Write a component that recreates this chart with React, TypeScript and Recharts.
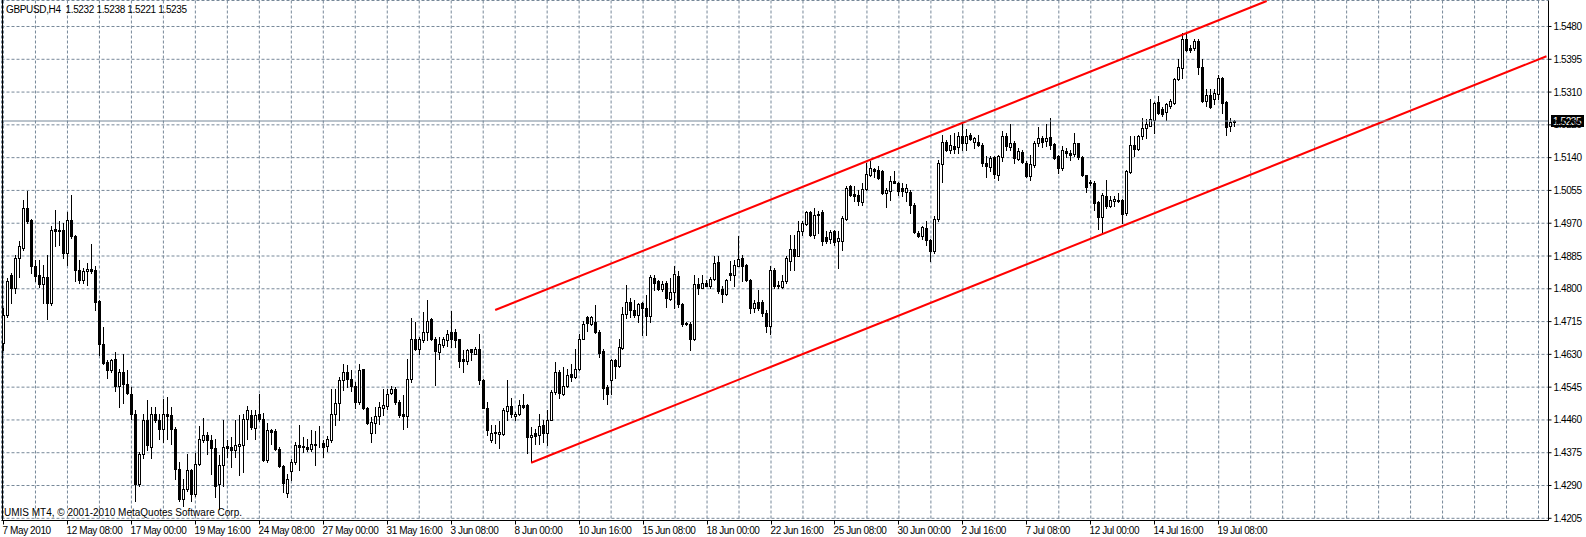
import React from 'react';
import { ComposedChart, Bar, XAxis, YAxis, CartesianGrid, ReferenceLine } from 'recharts';

const SYMBOL = 'GBPUSD,H4';
const COPYRIGHT = 'UMIS MT4, \u00a9 2001-2010 MetaQuotes Software Corp.';

// H4 bars, oldest first
const OPEN = [
  1.4659, 1.4732, 1.4836, 1.4801, 1.4879, 1.4907, 1.5009, 1.4979, 1.4859, 1.4836,
  1.4812, 1.4830, 1.4762, 1.4956, 1.4953, 1.4953, 1.4894, 1.4979, 1.4936, 1.4849,
  1.4823, 1.4846, 1.4852, 1.4849, 1.4769, 1.4656, 1.4611, 1.4589, 1.4618, 1.4548,
  1.4583, 1.4554, 1.4527, 1.4475, 1.4293, 1.4371, 1.4461, 1.4390, 1.4475, 1.4461,
  1.4437, 1.4476, 1.4472, 1.4437, 1.4333, 1.4256, 1.4282, 1.4329, 1.4267, 1.4345,
  1.4409, 1.4422, 1.4409, 1.4387, 1.4293, 1.4342, 1.4392, 1.4390, 1.4383, 1.4393,
  1.4394, 1.4463, 1.4474, 1.4440, 1.4476, 1.4462, 1.4357, 1.4433, 1.4431, 1.4385,
  1.4340, 1.4270, 1.4327, 1.4351, 1.4396, 1.4393, 1.4391, 1.4385, 1.4398, 1.4397,
  1.4400, 1.4393, 1.4407, 1.4476, 1.4505, 1.4563, 1.4583, 1.4566, 1.4548, 1.4507,
  1.4591, 1.4490, 1.4427, 1.4453, 1.4470, 1.4492, 1.4496, 1.4531, 1.4541, 1.4507,
  1.4476, 1.4470, 1.4566, 1.4670, 1.4645, 1.4667, 1.4687, 1.4722, 1.4670, 1.4637,
  1.4654, 1.4667, 1.4687, 1.4689, 1.4669, 1.4617, 1.4613, 1.4643, 1.4632, 1.4645,
  1.4563, 1.4491, 1.4407, 1.4429, 1.4423, 1.4423, 1.4483, 1.4496, 1.4470, 1.4475,
  1.4500, 1.4498, 1.4416, 1.4425, 1.4420, 1.4448, 1.4427, 1.4461, 1.4533, 1.4583,
  1.4528, 1.4548, 1.4578, 1.4572, 1.4592, 1.4671, 1.4726, 1.4710, 1.4715, 1.4689,
  1.4639, 1.4546, 1.4563, 1.4615, 1.4600, 1.4647, 1.4734, 1.4767, 1.4745, 1.4732,
  1.4762, 1.4749, 1.4730, 1.4827, 1.4819, 1.4799, 1.4814, 1.4773, 1.4791, 1.4834,
  1.4760, 1.4712, 1.4709, 1.4670, 1.4813, 1.4803, 1.4814, 1.4806, 1.4825, 1.4869,
  1.4799, 1.4787, 1.4840, 1.4836, 1.4860, 1.4879, 1.4862, 1.4823, 1.4751, 1.4767,
  1.4765, 1.4738, 1.4704, 1.4849, 1.4810, 1.4804, 1.4819, 1.4873, 1.4904, 1.4885,
  1.4949, 1.4968, 1.4998, 1.4940, 1.4995, 1.4998, 1.4934, 1.4929, 1.4949, 1.4925,
  1.4925, 1.4982, 1.5066, 1.5046, 1.5044, 1.5025, 1.5060, 1.5096, 1.5111, 1.5109,
  1.5105, 1.5048, 1.5054, 1.5080, 1.5074, 1.5061, 1.5051, 1.5050, 1.5018, 1.4944,
  1.4936, 1.4957, 1.4927, 1.4897, 1.4982, 1.5124, 1.5180, 1.5161, 1.5171, 1.5168,
  1.5197, 1.5177, 1.5200, 1.5180, 1.5181, 1.5174, 1.5126, 1.5116, 1.5142, 1.5096,
  1.5142, 1.5197, 1.5168, 1.5178, 1.5137, 1.5155, 1.5126, 1.5092, 1.5120, 1.5177,
  1.5190, 1.5183, 1.5193, 1.5176, 1.5144, 1.5114, 1.5157, 1.5152, 1.5150, 1.5177,
  1.5141, 1.5094, 1.5076, 1.5075, 1.5024, 1.4985, 1.5040, 1.5014, 1.5027, 1.5031,
  1.5029, 1.4996, 1.5103, 1.5174, 1.5163, 1.5196, 1.5216, 1.5223, 1.5237, 1.5284,
  1.5265, 1.5258, 1.5274, 1.5282, 1.5345, 1.5373, 1.5447, 1.5423, 1.5423, 1.5443,
  1.5376, 1.5287, 1.5302, 1.5291, 1.5304, 1.5347, 1.5284, 1.5222, 1.5232,
];

const HIGH = [
  1.4749, 1.4827, 1.4840, 1.4888, 1.4924, 1.5031, 1.5054, 1.4981, 1.4875, 1.4875,
  1.4862, 1.4888, 1.4962, 1.5005, 1.4976, 1.4970, 1.4999, 1.5044, 1.4940, 1.4875,
  1.4853, 1.4866, 1.4917, 1.4858, 1.4771, 1.4702, 1.4615, 1.4619, 1.4637, 1.4593,
  1.4632, 1.4589, 1.4546, 1.4485, 1.4377, 1.4476, 1.4511, 1.4494, 1.4494, 1.4476,
  1.4515, 1.4520, 1.4494, 1.4442, 1.4351, 1.4307, 1.4371, 1.4333, 1.4373, 1.4444,
  1.4466, 1.4429, 1.4420, 1.4411, 1.4368, 1.4461, 1.4407, 1.4416, 1.4459, 1.4474,
  1.4476, 1.4496, 1.4485, 1.4485, 1.4528, 1.4478, 1.4452, 1.4437, 1.4437, 1.4390,
  1.4342, 1.4321, 1.4360, 1.4403, 1.4446, 1.4416, 1.4411, 1.4433, 1.4431, 1.4444,
  1.4407, 1.4419, 1.4541, 1.4541, 1.4572, 1.4606, 1.4602, 1.4589, 1.4559, 1.4606,
  1.4593, 1.4494, 1.4468, 1.4494, 1.4507, 1.4541, 1.4541, 1.4548, 1.4546, 1.4511,
  1.4524, 1.4618, 1.4723, 1.4715, 1.4676, 1.4741, 1.4771, 1.4723, 1.4674, 1.4676,
  1.4676, 1.4693, 1.4743, 1.4697, 1.4671, 1.4641, 1.4645, 1.4645, 1.4650, 1.4683,
  1.4565, 1.4507, 1.4448, 1.4448, 1.4457, 1.4490, 1.4563, 1.4518, 1.4481, 1.4511,
  1.4528, 1.4502, 1.4442, 1.4437, 1.4475, 1.4461, 1.4487, 1.4537, 1.4609, 1.4589,
  1.4596, 1.4593, 1.4606, 1.4643, 1.4683, 1.4717, 1.4730, 1.4730, 1.4758, 1.4693,
  1.4643, 1.4550, 1.4617, 1.4618, 1.4671, 1.4754, 1.4810, 1.4775, 1.4771, 1.4764,
  1.4767, 1.4784, 1.4836, 1.4836, 1.4823, 1.4819, 1.4819, 1.4827, 1.4858, 1.4847,
  1.4762, 1.4715, 1.4715, 1.4836, 1.4827, 1.4836, 1.4823, 1.4830, 1.4884, 1.4884,
  1.4806, 1.4825, 1.4871, 1.4875, 1.4936, 1.4888, 1.4865, 1.4825, 1.4771, 1.4797,
  1.4771, 1.4745, 1.4858, 1.4853, 1.4819, 1.4836, 1.4884, 1.4940, 1.4940, 1.4975,
  1.4975, 1.5001, 1.5001, 1.5009, 1.5001, 1.5005, 1.4949, 1.4953, 1.4953, 1.4949,
  1.4989, 1.5066, 1.5070, 1.5066, 1.5057, 1.5074, 1.5126, 1.5131, 1.5113, 1.5118,
  1.5109, 1.5061, 1.5093, 1.5105, 1.5076, 1.5073, 1.5072, 1.5057, 1.5022, 1.4949,
  1.4962, 1.4976, 1.4929, 1.4989, 1.5135, 1.5200, 1.5187, 1.5200, 1.5204, 1.5206,
  1.5228, 1.5213, 1.5204, 1.5194, 1.5200, 1.5177, 1.5144, 1.5144, 1.5144, 1.5148,
  1.5209, 1.5204, 1.5228, 1.5183, 1.5165, 1.5161, 1.5131, 1.5148, 1.5183, 1.5220,
  1.5196, 1.5228, 1.5242, 1.5178, 1.5148, 1.5170, 1.5165, 1.5159, 1.5204, 1.5178,
  1.5144, 1.5096, 1.5083, 1.5079, 1.5027, 1.5049, 1.5083, 1.5040, 1.5040, 1.5049,
  1.5034, 1.5109, 1.5196, 1.5196, 1.5200, 1.5243, 1.5239, 1.5291, 1.5284, 1.5301,
  1.5272, 1.5282, 1.5291, 1.5347, 1.5397, 1.5464, 1.5466, 1.5431, 1.5447, 1.5447,
  1.5397, 1.5319, 1.5317, 1.5319, 1.5353, 1.5350, 1.5287, 1.5243, 1.5238,
];

const LOW = [
  1.4641, 1.4728, 1.4762, 1.4788, 1.4830, 1.4901, 1.4970, 1.4840, 1.4819, 1.4804,
  1.4764, 1.4721, 1.4758, 1.4910, 1.4914, 1.4879, 1.4862, 1.4931, 1.4819, 1.4816,
  1.4816, 1.4810, 1.4840, 1.4745, 1.4628, 1.4606, 1.4570, 1.4585, 1.4535, 1.4494,
  1.4505, 1.4528, 1.4463, 1.4249, 1.4290, 1.4362, 1.4381, 1.4362, 1.4455, 1.4411,
  1.4403, 1.4411, 1.4398, 1.4307, 1.4249, 1.4238, 1.4277, 1.4251, 1.4262, 1.4342,
  1.4403, 1.4371, 1.4321, 1.4260, 1.4230, 1.4290, 1.4364, 1.4338, 1.4364, 1.4316,
  1.4325, 1.4411, 1.4437, 1.4411, 1.4457, 1.4353, 1.4351, 1.4398, 1.4383, 1.4338,
  1.4273, 1.4260, 1.4305, 1.4347, 1.4329, 1.4377, 1.4379, 1.4380, 1.4342, 1.4390,
  1.4364, 1.4380, 1.4403, 1.4448, 1.4459, 1.4537, 1.4546, 1.4535, 1.4490, 1.4502,
  1.4488, 1.4449, 1.4403, 1.4426, 1.4449, 1.4472, 1.4488, 1.4528, 1.4502, 1.4468,
  1.4437, 1.4442, 1.4559, 1.4641, 1.4630, 1.4663, 1.4667, 1.4667, 1.4550, 1.4617,
  1.4648, 1.4652, 1.4648, 1.4650, 1.4596, 1.4585, 1.4605, 1.4615, 1.4631, 1.4554,
  1.4490, 1.4420, 1.4403, 1.4400, 1.4388, 1.4420, 1.4459, 1.4468, 1.4461, 1.4472,
  1.4492, 1.4373, 1.4351, 1.4398, 1.4397, 1.4403, 1.4394, 1.4459, 1.4528, 1.4518,
  1.4524, 1.4546, 1.4561, 1.4570, 1.4589, 1.4669, 1.4691, 1.4706, 1.4686, 1.4624,
  1.4513, 1.4502, 1.4528, 1.4568, 1.4596, 1.4645, 1.4723, 1.4728, 1.4728, 1.4715,
  1.4680, 1.4680, 1.4715, 1.4797, 1.4797, 1.4793, 1.4752, 1.4771, 1.4749, 1.4754,
  1.4704, 1.4706, 1.4641, 1.4667, 1.4787, 1.4801, 1.4806, 1.4801, 1.4823, 1.4790,
  1.4767, 1.4784, 1.4823, 1.4806, 1.4858, 1.4819, 1.4821, 1.4738, 1.4741, 1.4745,
  1.4730, 1.4689, 1.4684, 1.4801, 1.4801, 1.4801, 1.4814, 1.4849, 1.4849, 1.4884,
  1.4940, 1.4966, 1.4936, 1.4931, 1.4944, 1.4914, 1.4918, 1.4918, 1.4914, 1.4855,
  1.4901, 1.4979, 1.5040, 1.5027, 1.5018, 1.5016, 1.5057, 1.5092, 1.5090, 1.5085,
  1.5047, 1.5012, 1.5031, 1.5073, 1.5042, 1.5040, 1.5027, 1.4996, 1.4944, 1.4934,
  1.4929, 1.4914, 1.4872, 1.4892, 1.4975, 1.5077, 1.5157, 1.5152, 1.5152, 1.5151,
  1.5161, 1.5159, 1.5185, 1.5165, 1.5170, 1.5118, 1.5090, 1.5105, 1.5088, 1.5083,
  1.5131, 1.5161, 1.5161, 1.5126, 1.5135, 1.5125, 1.5090, 1.5083, 1.5116, 1.5171,
  1.5168, 1.5170, 1.5163, 1.5137, 1.5101, 1.5109, 1.5142, 1.5133, 1.5144, 1.5137,
  1.5092, 1.5050, 1.5070, 1.5003, 1.4955, 1.4947, 1.5009, 1.5012, 1.5014, 1.5024,
  1.4970, 1.4992, 1.5101, 1.5144, 1.5161, 1.5189, 1.5191, 1.5222, 1.5204, 1.5252,
  1.5248, 1.5237, 1.5269, 1.5278, 1.5341, 1.5347, 1.5417, 1.5414, 1.5419, 1.5356,
  1.5284, 1.5274, 1.5269, 1.5278, 1.5293, 1.5255, 1.5200, 1.5209, 1.5221,
];

const CLOSE = [
  1.4732, 1.4819, 1.4801, 1.4879, 1.4911, 1.5009, 1.4977, 1.4860, 1.4834, 1.4812,
  1.4830, 1.4764, 1.4953, 1.4949, 1.4949, 1.4894, 1.4979, 1.4936, 1.4849, 1.4823,
  1.4847, 1.4852, 1.4847, 1.4767, 1.4656, 1.4608, 1.4589, 1.4615, 1.4548, 1.4583,
  1.4554, 1.4531, 1.4475, 1.4293, 1.4371, 1.4461, 1.4394, 1.4476, 1.4459, 1.4437,
  1.4476, 1.4470, 1.4437, 1.4333, 1.4256, 1.4282, 1.4329, 1.4267, 1.4347, 1.4411,
  1.4422, 1.4409, 1.4387, 1.4290, 1.4342, 1.4390, 1.4387, 1.4383, 1.4396, 1.4398,
  1.4463, 1.4485, 1.4442, 1.4474, 1.4462, 1.4357, 1.4433, 1.4429, 1.4385, 1.4340,
  1.4297, 1.4307, 1.4351, 1.4396, 1.4390, 1.4389, 1.4385, 1.4397, 1.4394, 1.4398,
  1.4390, 1.4410, 1.4476, 1.4505, 1.4563, 1.4583, 1.4565, 1.4548, 1.4507, 1.4589,
  1.4490, 1.4453, 1.4455, 1.4470, 1.4494, 1.4498, 1.4528, 1.4541, 1.4507, 1.4472,
  1.4470, 1.4566, 1.4671, 1.4645, 1.4670, 1.4687, 1.4717, 1.4670, 1.4639, 1.4657,
  1.4670, 1.4684, 1.4670, 1.4667, 1.4613, 1.4613, 1.4641, 1.4637, 1.4645, 1.4563,
  1.4491, 1.4433, 1.4425, 1.4425, 1.4429, 1.4485, 1.4496, 1.4475, 1.4476, 1.4500,
  1.4494, 1.4416, 1.4420, 1.4419, 1.4444, 1.4426, 1.4461, 1.4533, 1.4583, 1.4531,
  1.4548, 1.4576, 1.4572, 1.4592, 1.4671, 1.4710, 1.4712, 1.4726, 1.4689, 1.4634,
  1.4544, 1.4526, 1.4615, 1.4600, 1.4648, 1.4734, 1.4767, 1.4745, 1.4732, 1.4761,
  1.4749, 1.4730, 1.4830, 1.4816, 1.4799, 1.4813, 1.4775, 1.4791, 1.4838, 1.4760,
  1.4708, 1.4709, 1.4670, 1.4813, 1.4803, 1.4814, 1.4808, 1.4826, 1.4866, 1.4795,
  1.4787, 1.4823, 1.4836, 1.4862, 1.4878, 1.4859, 1.4823, 1.4751, 1.4762, 1.4749,
  1.4736, 1.4704, 1.4849, 1.4806, 1.4806, 1.4820, 1.4879, 1.4903, 1.4884, 1.4951,
  1.4970, 1.4998, 1.4940, 1.4992, 1.4991, 1.4923, 1.4923, 1.4946, 1.4921, 1.4931,
  1.4983, 1.5061, 1.5042, 1.5041, 1.5027, 1.5060, 1.5098, 1.5113, 1.5106, 1.5087,
  1.5048, 1.5055, 1.5080, 1.5074, 1.5053, 1.5053, 1.5061, 1.5018, 1.4946, 1.4936,
  1.4959, 1.4927, 1.4898, 1.4982, 1.5126, 1.5181, 1.5161, 1.5174, 1.5163, 1.5197,
  1.5177, 1.5196, 1.5189, 1.5190, 1.5174, 1.5126, 1.5118, 1.5139, 1.5098, 1.5144,
  1.5197, 1.5170, 1.5178, 1.5139, 1.5157, 1.5129, 1.5092, 1.5124, 1.5178, 1.5190,
  1.5181, 1.5190, 1.5174, 1.5139, 1.5114, 1.5159, 1.5151, 1.5148, 1.5177, 1.5141,
  1.5094, 1.5063, 1.5073, 1.5023, 1.4985, 1.5044, 1.5014, 1.5031, 1.5034, 1.5027,
  1.4994, 1.5105, 1.5174, 1.5163, 1.5197, 1.5216, 1.5226, 1.5239, 1.5282, 1.5256,
  1.5252, 1.5278, 1.5287, 1.5345, 1.5376, 1.5447, 1.5419, 1.5419, 1.5443, 1.5376,
  1.5287, 1.5302, 1.5272, 1.5307, 1.5347, 1.5282, 1.5220, 1.5233, 1.5235,
];

// one label every 16 bars
const TIME_LABELS = [
  '7 May 2010', '12 May 08:00', '17 May 00:00', '19 May 16:00', '24 May 08:00',
  '27 May 00:00', '31 May 16:00', '3 Jun 08:00', '8 Jun 00:00', '10 Jun 16:00',
  '15 Jun 08:00', '18 Jun 00:00', '22 Jun 16:00', '25 Jun 08:00', '30 Jun 00:00',
  '2 Jul 16:00', '7 Jul 08:00', '12 Jul 00:00', '14 Jul 16:00', '19 Jul 08:00',
];

const PRICE_TICKS = [
  1.548, 1.5395, 1.531, 1.5225, 1.514, 1.5055, 1.497, 1.4885,
  1.48, 1.4715, 1.463, 1.4545, 1.446, 1.4375, 1.429, 1.4205,
];

// hand drawn channel: [bar index, price]
const UPPER_CHANNEL = [[123, 1.4745], [316, 1.5546]];
const LOWER_CHANNEL = [[132, 1.4349], [386, 1.5403]];

const SLOTS = 387; // bars plus empty space up to the price scale
const LABEL_EVERY = 16;
const GRID_EVERY = 8;
const PRICE_DOMAIN = [1.41993, 1.55474];

const W = 1586;
const H = 537;
const FONT = "'Liberation Sans', Arial, sans-serif";
const GRID_COLOR = '#778899';

const data = Array.from({ length: SLOTS }, (_, i) =>
  i < OPEN.length
    ? { i, open: OPEN[i], high: HIGH[i], low: LOW[i], close: CLOSE[i] }
    : { i }
);

const gridTicks = Array.from(
  { length: Math.floor((SLOTS - 1) / GRID_EVERY) + 1 },
  (_, k) => k * GRID_EVERY
);

const last = OPEN.length - 1;

const Candle = (props: any) => {
  const { x, y, width, height, payload } = props;
  if (!payload || payload.high == null) return <g />;
  const { open, high, low, close } = payload;
  const top = Math.min(y, y + height);
  const k = Math.abs(height) / (high - low);
  const py = (v: number) => Math.round(top + (high - v) * k);
  const cx = Math.floor(x + width / 2);
  const bTop = py(Math.max(open, close));
  const bBot = py(Math.min(open, close));
  const up = close >= open;
  return (
    <g>
      <line x1={cx + 0.5} x2={cx + 0.5} y1={py(high)} y2={py(low) + 1} stroke="#000" strokeWidth={1} />
      {up ? (
        <rect x={cx - 0.5} y={bTop + 0.5} width={2} height={Math.max(bBot - bTop, 0)} fill="#fff" stroke="#000" strokeWidth={1} />
      ) : (
        <rect x={cx - 1} y={bTop} width={3} height={Math.max(bBot - bTop + 1, 1)} fill="#000" />
      )}
    </g>
  );
};

const TimeTick = (props: any) => {
  const { x, y, payload } = props;
  const v = payload.value;
  if (v % LABEL_EVERY !== 0 || !TIME_LABELS[v / LABEL_EVERY]) return <g />;
  const px = Math.floor(x) + 0.5;
  return (
    <g>
      <line x1={px} x2={px} y1={y} y2={y + 4} stroke="#000" />
      <text x={px - 1} y={y + 13} fontSize={10} fontFamily={FONT} letterSpacing={-0.4} fill="#000">
        {TIME_LABELS[v / LABEL_EVERY]}
      </text>
    </g>
  );
};

const PriceTag = (props: any) => {
  const { viewBox, text } = props;
  if (!viewBox) return null;
  const left = viewBox.x + viewBox.width + 2.5;
  const yy = Math.round(viewBox.y);
  return (
    <g>
      <rect x={left} y={yy - 6} width={33} height={12} fill="#000" />
      <text x={left + 2} y={yy + 4} fontSize={10} fontFamily={FONT} letterSpacing={-0.4} fill="#fff">
        {text}
      </text>
    </g>
  );
};

export default function App() {
  const header = `${SYMBOL}  ${OPEN[last].toFixed(4)} ${HIGH[last].toFixed(4)} ${LOW[last].toFixed(4)} ${CLOSE[last].toFixed(4)}`;
  return (
    <div style={{ position: 'fixed', left: 0, top: 0, width: W, height: H, background: '#fff', fontFamily: FONT }}>
      <ComposedChart width={W} height={H} data={data} margin={{ top: 0.5, right: 0, bottom: 0, left: 1.5 }}>
        <CartesianGrid stroke={GRID_COLOR} strokeDasharray="3 2" />
        <XAxis
          dataKey="i"
          type="category"
          ticks={gridTicks}
          interval={0}
          height={16.5}
          tickSize={0}
          tickMargin={0}
          tickLine={false}
          axisLine={{ stroke: '#000' }}
          tick={<TimeTick />}
        />
        <YAxis
          orientation="right"
          type="number"
          width={37.5}
          domain={PRICE_DOMAIN}
          allowDataOverflow
          ticks={PRICE_TICKS}
          interval={0}
          tickSize={3}
          tickMargin={2}
          tickLine={{ stroke: '#000' }}
          axisLine={{ stroke: '#000' }}
          tickFormatter={(v: number) => v.toFixed(4)}
          tick={{ fontSize: 10, fill: '#000', fontFamily: FONT, letterSpacing: -0.4 }}
        />
        <Bar
          dataKey={(d: any) => (d.high == null ? null : [d.low, d.high])}
          shape={(p: any) => <Candle {...p} />}
          isAnimationActive={false}
        />
        <ReferenceLine
          segment={[
            { x: UPPER_CHANNEL[0][0], y: UPPER_CHANNEL[0][1] },
            { x: UPPER_CHANNEL[1][0], y: UPPER_CHANNEL[1][1] },
          ]}
          stroke="#ff0000"
          strokeWidth={2}
          ifOverflow="visible"
        />
        <ReferenceLine
          segment={[
            { x: LOWER_CHANNEL[0][0], y: LOWER_CHANNEL[0][1] },
            { x: LOWER_CHANNEL[1][0], y: LOWER_CHANNEL[1][1] },
          ]}
          stroke="#ff0000"
          strokeWidth={2}
          ifOverflow="visible"
        />
        <ReferenceLine
          y={CLOSE[last]}
          stroke={GRID_COLOR}
          strokeWidth={1}
          label={<PriceTag text={CLOSE[last].toFixed(4)} />}
        />
      </ComposedChart>
      <div style={{ position: 'absolute', left: 2, top: 0, width: 1, height: 521, background: '#000' }} />
      <div style={{ position: 'absolute', left: 6, top: 4, fontSize: 10, lineHeight: '11px', whiteSpace: 'pre', letterSpacing: -0.35, color: '#000' }}>
        {header}
      </div>
      <div style={{ position: 'absolute', left: 4, top: 507, fontSize: 10, lineHeight: '11px', whiteSpace: 'pre', color: '#000' }}>
        {COPYRIGHT}
      </div>
    </div>
  );
}
